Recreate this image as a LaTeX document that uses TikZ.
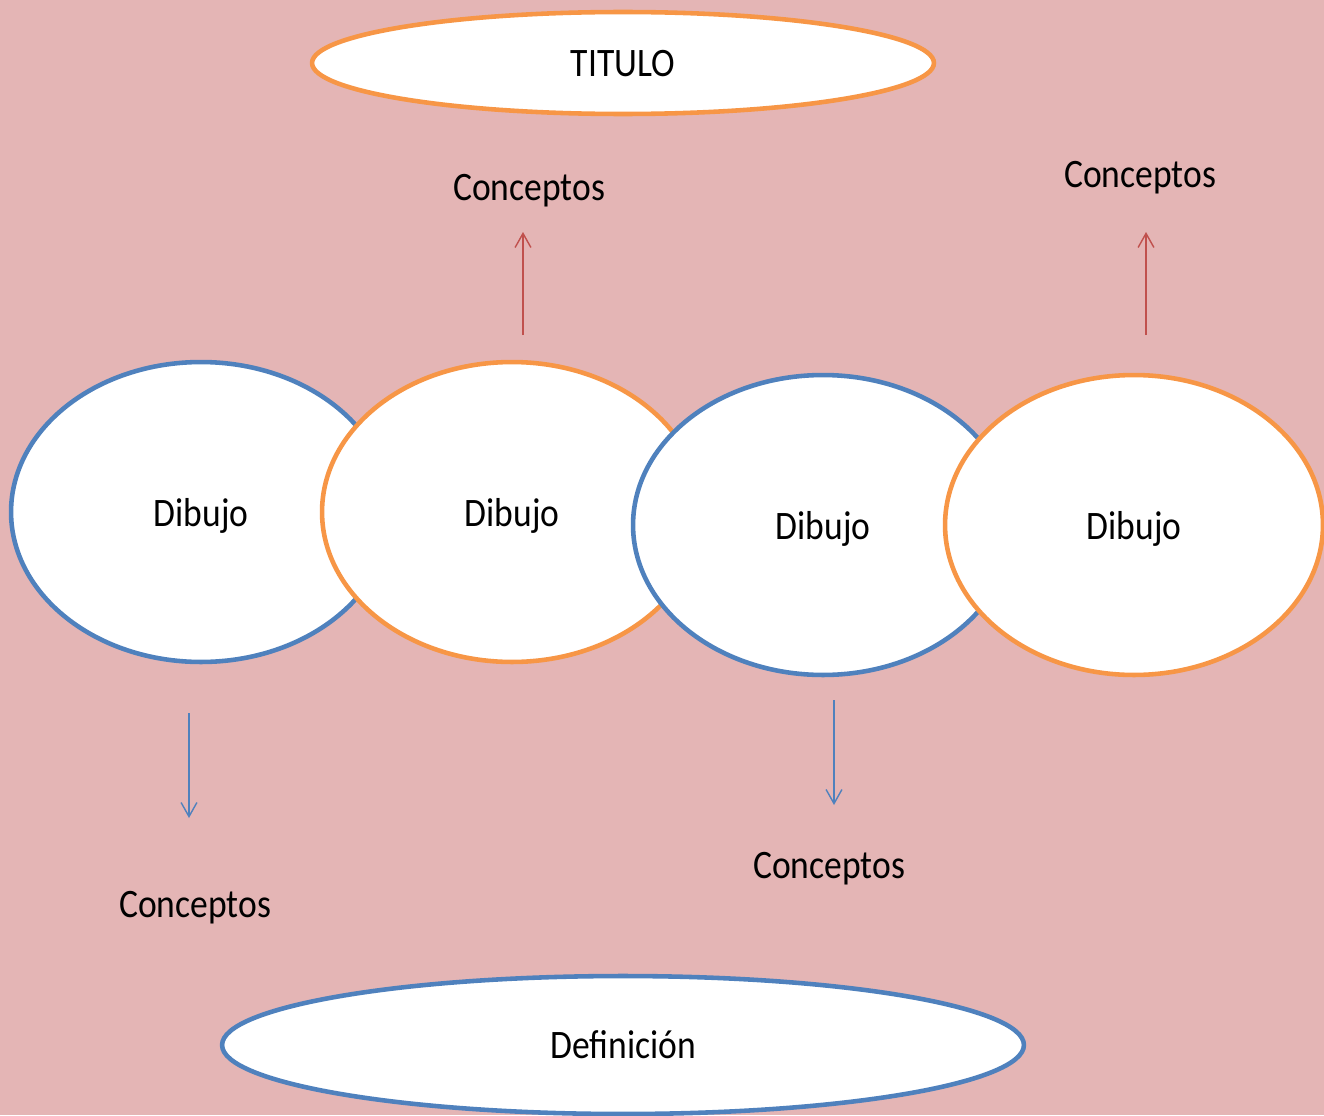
\documentclass[tikz,border=0pt]{standalone}
\usepackage{fontspec}
\setmainfont{Carlito}[FakeStretch=0.88]
\usetikzlibrary{shapes.geometric,arrows.meta}
\definecolor{bgpink}{RGB}{228,181,181}
\definecolor{orng}{RGB}{247,150,70}
\definecolor{blu}{RGB}{79,129,189}
\definecolor{redarr}{RGB}{192,80,77}
\begin{document}
\begin{tikzpicture}[x=0.02cm,y=-0.02cm,
  lbl/.style={font=\fontsize{23}{28}\selectfont, text=black, inner sep=0pt},
  bubble/.style={ellipse, fill=white, line width=2.6pt, inner sep=0pt, text depth=0pt, font=\fontsize{23}{28}\selectfont},
  orangebub/.style={bubble, draw=orng},
  bluebub/.style={bubble, draw=blu},
  uparrow/.style={draw=redarr, line width=0.8pt, -{Straight Barb[length=8pt,width=9pt,line width=0.8pt]}},
  downarrow/.style={draw=blu, line width=0.8pt, -{Straight Barb[length=8pt,width=9pt,line width=0.8pt]}}]
\fill[bgpink] (0,0) rectangle (1324,1115);
\useasboundingbox (0,0) rectangle (1324,1115);
% title and definition
\node[orangebub, minimum width=12.44cm, minimum height=2.04cm] (titulo) at (623,63) {TITULO};
\node[bluebub, minimum width=16.04cm, minimum height=2.76cm] (def) at (623,1045) {Definición};
% drawings
\node[bluebub, minimum width=7.6cm, minimum height=6cm] (d1) at (201,512) {Dibujo};
\node[orangebub, minimum width=7.6cm, minimum height=6cm] (d2) at (512,512) {Dibujo};
\node[bluebub, minimum width=7.6cm, minimum height=6cm] (d3) at (823,525) {Dibujo};
\node[orangebub, minimum width=7.56cm, minimum height=6cm] (d4) at (1134,525) {Dibujo};
% concept labels
\node[lbl] (c2) at (529,191) {Conceptos};
\node[lbl] (c4) at (1140,178) {Conceptos};
\node[lbl] (c1) at (195,908) {Conceptos};
\node[lbl] (c3) at (829,869) {Conceptos};
% arrow end points
\coordinate (a2s) at (523,335);
\coordinate (a2e) at (523,232);
\coordinate (a4s) at (1146,335);
\coordinate (a4e) at (1146,232);
\coordinate (a1s) at (189,713);
\coordinate (a1e) at (189,818);
\coordinate (a3s) at (834,700);
\coordinate (a3e) at (834,805);
\draw[uparrow] (a2s) -- (a2e);
\draw[uparrow] (a4s) -- (a4e);
\draw[downarrow] (a1s) -- (a1e);
\draw[downarrow] (a3s) -- (a3e);
\end{tikzpicture}
\end{document}
